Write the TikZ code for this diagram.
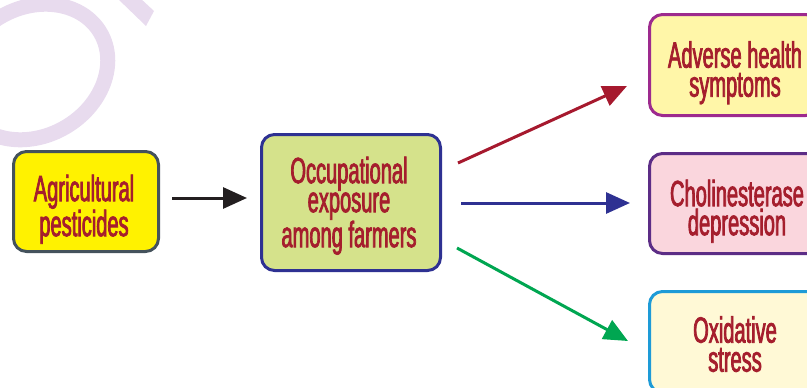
\documentclass[tikz,border=0pt]{standalone}
\usepackage{fontspec}
\usetikzlibrary{arrows.meta}
\newfontfamily\labfont{Liberation Sans}[FakeStretch=0.55,FakeBold=2]
\definecolor{txtred}{RGB}{165,30,45}
\definecolor{wmark}{RGB}{232,219,238}
\definecolor{fillA}{RGB}{255,242,0}
\definecolor{edgeA}{RGB}{68,82,92}
\definecolor{fillB}{RGB}{213,226,139}
\definecolor{edgeB}{RGB}{46,49,146}
\definecolor{fillC}{RGB}{255,246,168}
\definecolor{edgeC}{RGB}{157,42,142}
\definecolor{fillD}{RGB}{250,214,221}
\definecolor{edgeD}{RGB}{92,45,134}
\definecolor{fillE}{RGB}{255,249,214}
\definecolor{edgeE}{RGB}{30,155,215}
\definecolor{arrRed}{RGB}{166,25,46}
\definecolor{arrBlue}{RGB}{46,49,146}
\definecolor{arrGreen}{RGB}{0,166,81}
\definecolor{arrBlack}{RGB}{35,31,32}
\tikzset{
  box/.style={draw, rounded corners=13pt, line width=3pt, inner sep=0pt},
  lab/.style={anchor=north, align=center, text=txtred, inner sep=0pt,
    font=\labfont\fontsize{36.5}{29}\selectfont},
  conn/.style={line width=3pt, -{Triangle[length=24pt,width=21pt]}}
}
\begin{document}
\begin{tikzpicture}[x=1pt,y=-1pt]
\useasboundingbox (0,0) rectangle (807,388);
\clip (0,0) rectangle (807,388);
% watermark
\draw[wmark, line width=15pt, rotate around={30:(33,72)}] (33,72) ellipse [x radius=78, y radius=64];
\fill[wmark] (117,-2) -- (146,26) -- (154,11) -- (140,-2) -- cycle;
% boxes
\node[box, fill=fillA, draw=edgeA, minimum width=145pt, minimum height=100pt] (pest) at (86,201.5) {};
\node[box, fill=fillB, draw=edgeB, minimum width=179pt, minimum height=136pt] (occ) at (351,202.5) {};
\node[box, fill=fillC, draw=edgeC, minimum width=169pt, minimum height=101pt] (adv) at (734,65) {};
\node[box, fill=fillD, draw=edgeD, minimum width=175pt, minimum height=100pt] (chol) at (737,203.5) {};
\node[box, fill=fillE, draw=edgeE, minimum width=171pt, minimum height=101pt] (oxi) at (735,342) {};
% texts
\node[lab] (tpest) at (84,174.5) {Agricultural\\pesticides};
\node[lab] (tocc) at (349,156.5) {Occupational\\exposure\\among farmers};
\node[lab] (tadv) at (735,41) {Adverse health\\symptoms};
\node[lab] (tchol) at (737,179.5) {Cholinesterase\\depression};
\node[lab] (toxi) at (735,316) {Oxidative\\stress};
% connector ends
\coordinate (k1) at (172,198);
\coordinate (k2) at (247,198);
\coordinate (r1) at (458,163);
\coordinate (r2) at (627,86);
\coordinate (b1) at (461,203);
\coordinate (b2) at (630,203);
\coordinate (g1) at (457,248);
\coordinate (g2) at (628,341);
\draw[conn, arrBlack] (k1) -- (k2);
\draw[conn, arrRed] (r1) -- (r2);
\draw[conn, arrBlue] (b1) -- (b2);
\draw[conn, arrGreen] (g1) -- (g2);
\end{tikzpicture}
\end{document}
